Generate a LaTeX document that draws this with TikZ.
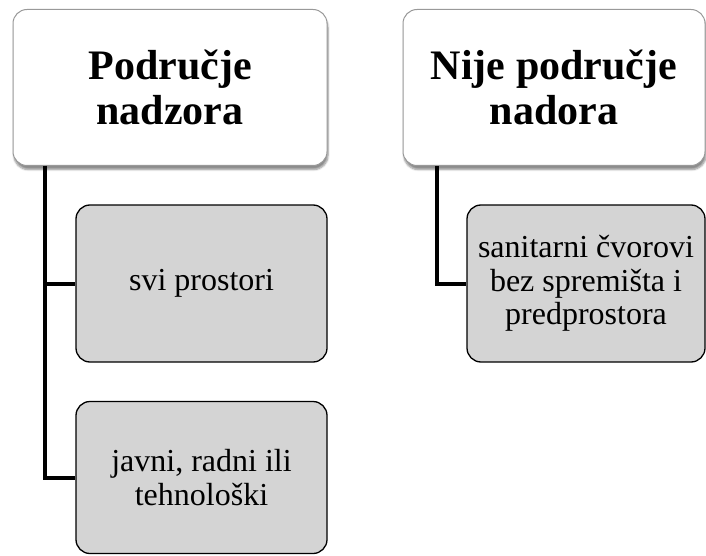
\documentclass[tikz,border=0pt]{standalone}
\usepackage{fontspec}
\setmainfont{Liberation Serif}
\usetikzlibrary{shadows.blur}
\begin{document}
\begin{tikzpicture}[x=1pt,y=-1pt,
  titlebox/.style={draw=black!40, line width=1pt, fill=white, rounded corners=14pt,
    blur shadow={shadow xshift=1pt, shadow yshift=-4pt, shadow blur steps=6, shadow opacity=45},
    align=center, inner sep=0pt, font=\fontsize{42}{45}\selectfont\bfseries},
  childbox/.style={draw=black, line width=1.3pt, fill=black!17, rounded corners=14pt,
    align=center, inner sep=0pt, font=\fontsize{32}{33.5}\selectfont},
  link/.style={line width=4pt, black}
]
\useasboundingbox (0,0) rectangle (706,556);
\node[titlebox, minimum width=314pt, minimum height=156pt] (t1) at (170,87.5) {Područje\\nadzora};
\node[titlebox, minimum width=302pt, minimum height=156pt] (t2) at (554,87.5) {Nije područje\\nadora};
\node[childbox, minimum width=251pt, minimum height=157pt] (c1) at (201.5,283.5) {svi prostori};
\node[childbox, minimum width=251pt, minimum height=152pt] (c2) at (201.5,477.5) {javni, radni ili\\tehnološki};
\node[childbox, minimum width=238pt, minimum height=157pt] (c3) at (586,283.5) {sanitarni čvorovi\\bez spremišta i\\predprostora};
\draw[link] ([xshift=32pt]t1.south west) |- (c1.west);
\draw[link] ([xshift=32pt]t1.south west) |- (c2.west);
\draw[link] ([xshift=34pt]t2.south west) |- (c3.west);
\end{tikzpicture}
\end{document}
